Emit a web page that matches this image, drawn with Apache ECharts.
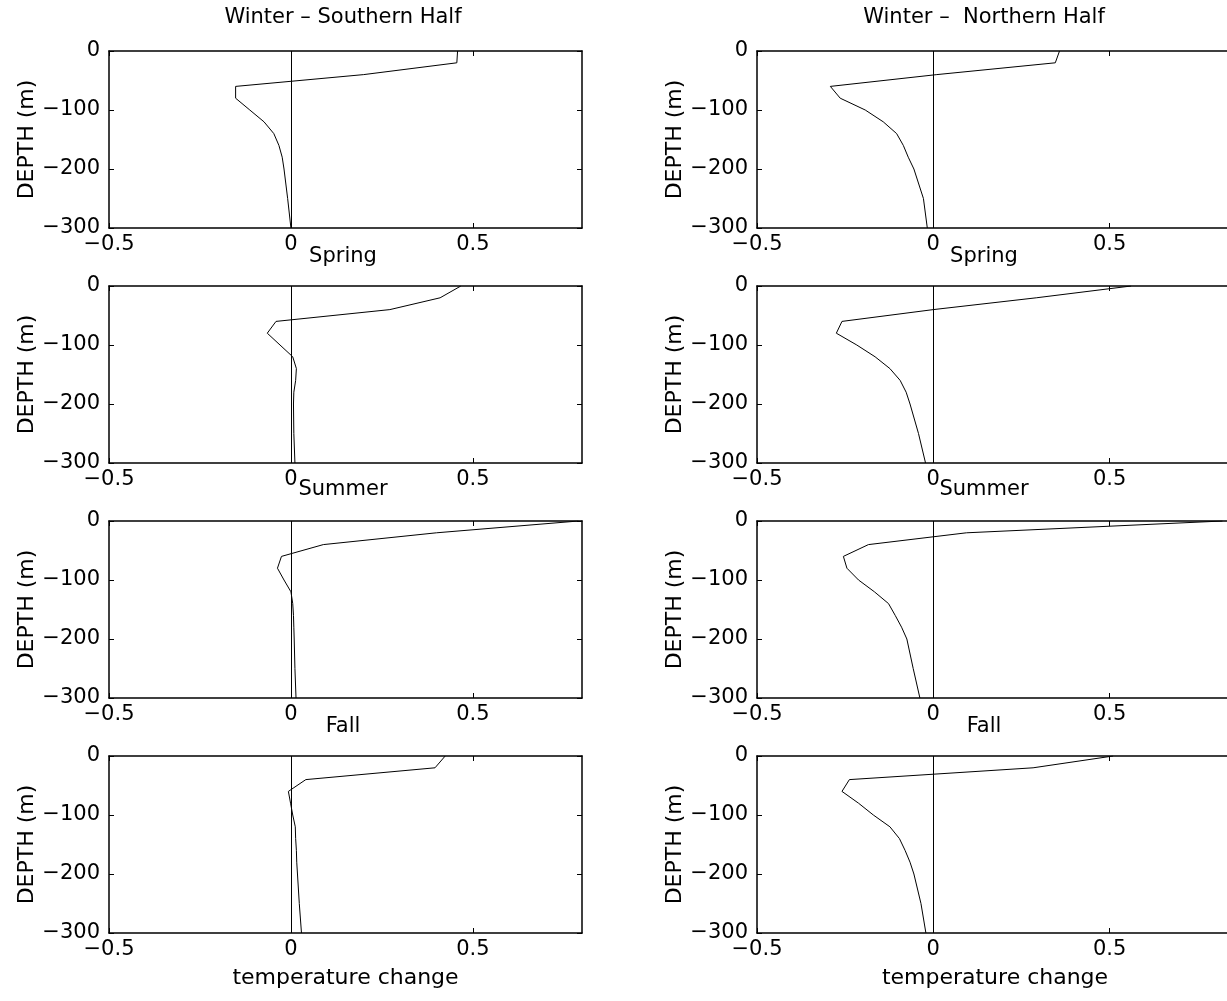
<!DOCTYPE html>
<html>
<head>
<meta charset="utf-8">
<script src="https://cdn.jsdelivr.net/npm/echarts@6/dist/echarts.min.js"></script>
<style>
  html, body { margin: 0; padding: 0; background: #fff; overflow: hidden; }
  #chart { width: 1227px; height: 1001px; }
</style>
</head>
<body>
<div id="chart"></div>
<script>
// depth levels (m), shared by every profile
const depths = [0, -20, -40, -60, -80, -100, -120, -140, -160, -180, -200, -250, -300];

// temperature change per depth level
const winterSouth = [0.458, 0.456, 0.20, -0.152, -0.152, -0.113, -0.074, -0.047, -0.033, -0.024, -0.019, -0.009, 0.0];
const winterNorth = [0.358, 0.346, 0.01, -0.292, -0.264, -0.193, -0.142, -0.104, -0.085, -0.071, -0.055, -0.028, -0.017];
const springSouth = [0.467, 0.41, 0.272, -0.041, -0.065, -0.03, 0.005, 0.015, 0.013, 0.008, 0.007, 0.008, 0.011];
const springNorth = [0.561, 0.292, 0.0, -0.259, -0.275, -0.217, -0.165, -0.123, -0.094, -0.077, -0.066, -0.042, -0.022];
const summerSouth = [0.79, 0.40, 0.089, -0.026, -0.037, -0.019, 0.0, 0.005, 0.007, 0.008, 0.009, 0.011, 0.014];
const summerNorth = [0.82, 0.094, -0.184, -0.255, -0.245, -0.212, -0.167, -0.127, -0.108, -0.09, -0.075, -0.057, -0.038];
const fallSouth = [0.424, 0.396, 0.041, -0.007, -0.001, 0.005, 0.012, 0.013, 0.015, 0.016, 0.018, 0.023, 0.029];
const fallNorth = [0.51, 0.283, -0.238, -0.259, -0.212, -0.17, -0.123, -0.096, -0.08, -0.066, -0.055, -0.035, -0.021];

const panelTitles = [
  'Winter – Southern Half', 'Winter –  Northern Half',
  'Spring', 'Spring',
  'Summer', 'Summer',
  'Fall', 'Fall'
];
const panelData = [winterSouth, winterNorth, springSouth, springNorth, summerSouth, summerNorth, fallSouth, fallNorth];

// tick labels
const xTicks = [-0.5, 0, 0.5];
const yTicks = [0, -100, -200, -300];

// layout (px)
const colLeft = [109, 757];
const colWidth = [473, 476];
const colMax = [0.8, 0.85];
const titleX = [343, 984];
const rowTop = [51, 286, 521, 756];
const rowHeight = 177;
const titleY = [18, 257, 490, 727];

const FONT = '"DejaVu Sans", sans-serif';
const minus = v => String(v).replace('-', '\u2212');

const grids = [], xAxes = [], yAxes = [], series = [], graphics = [];

panelData.forEach((vals, i) => {
  const row = Math.floor(i / 2);
  const col = i % 2;
  const last = row === rowTop.length - 1;

  grids.push({
    left: colLeft[col], top: rowTop[row], width: colWidth[col], height: rowHeight,
    outerBoundsMode: 'none'
  });

  const boxLine = { show: true, onZero: false, lineStyle: { color: '#000', width: 1.5 } };
  const tickIn = { show: true, inside: true, length: 5, lineStyle: { color: '#000', width: 1 } };

  xAxes.push({
    type: 'value', gridIndex: i, position: 'bottom',
    min: -0.5, max: colMax[col],
    axisLine: boxLine,
    axisTick: Object.assign({ customValues: xTicks }, tickIn),
    axisLabel: {
      customValues: xTicks, formatter: minus, color: '#000',
      fontSize: 21, fontFamily: FONT, margin: 6
    },
    splitLine: { show: false },
    name: last ? 'temperature change' : '',
    nameLocation: 'middle', nameGap: 34,
    nameTextStyle: { color: '#000', fontSize: 22, fontFamily: FONT }
  });
  xAxes.push({
    type: 'value', gridIndex: i, position: 'top',
    min: -0.5, max: colMax[col],
    axisLine: boxLine,
    axisTick: Object.assign({ customValues: xTicks }, tickIn),
    axisLabel: { show: false },
    splitLine: { show: false }
  });

  yAxes.push({
    type: 'value', gridIndex: i, position: 'left',
    min: -300, max: 0, interval: 100,
    axisLine: boxLine,
    axisTick: Object.assign({ customValues: yTicks }, tickIn),
    axisLabel: { customValues: yTicks, formatter: minus, color: '#000', fontSize: 21, fontFamily: FONT, margin: 9 },
    splitLine: { show: false },
    name: 'DEPTH (m)', nameLocation: 'middle', nameRotate: 90, nameGap: 70,
    nameTextStyle: { color: '#000', fontSize: 22, fontFamily: FONT }
  });
  yAxes.push({
    type: 'value', gridIndex: i, position: 'right',
    min: -300, max: 0, interval: 100,
    axisLine: boxLine,
    axisTick: Object.assign({ customValues: yTicks }, tickIn),
    axisLabel: { show: false },
    splitLine: { show: false }
  });

  series.push({
    type: 'line',
    xAxisIndex: 2 * i, yAxisIndex: 2 * i,
    data: vals.map((v, k) => [v, depths[k]]),
    symbol: 'none',
    silent: true,
    lineStyle: { color: '#000', width: 1 },
    markLine: {
      silent: true, symbol: 'none', label: { show: false },
      lineStyle: { color: '#000', width: 1, type: 'solid' },
      data: [{ xAxis: 0 }]
    },
    animation: false
  });

  graphics.push({
    type: 'text',
    x: titleX[col], y: titleY[row],
    style: {
      text: panelTitles[i], fill: '#000',
      font: '21px ' + FONT,
      align: 'center', verticalAlign: 'middle'
    }
  });
});

const chart = echarts.init(document.getElementById('chart'));
chart.setOption({
  backgroundColor: '#fff',
  animation: false,
  grid: grids,
  xAxis: xAxes,
  yAxis: yAxes,
  series: series,
  graphic: graphics
});
</script>
</body>
</html>
